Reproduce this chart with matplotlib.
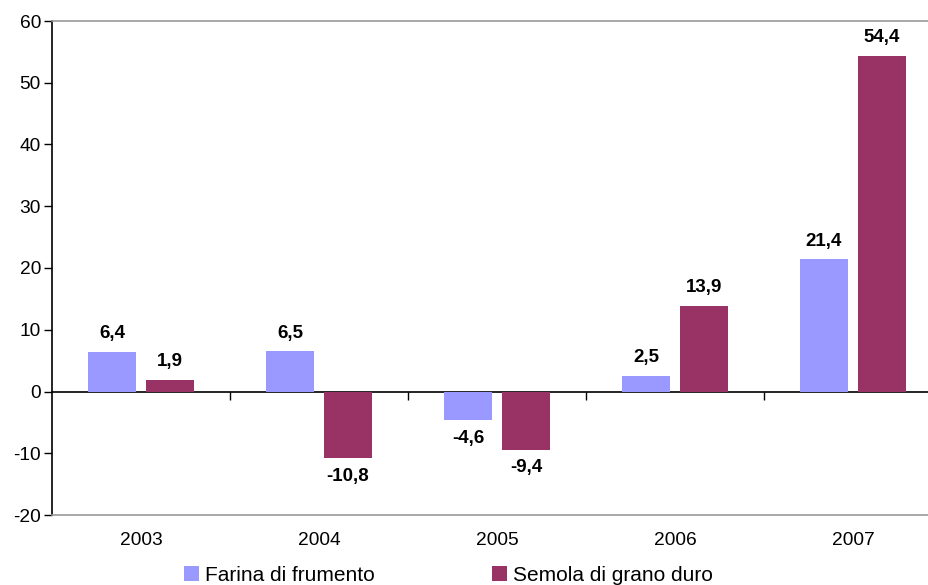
import matplotlib
matplotlib.use("Agg")
import matplotlib.pyplot as plt
from matplotlib.ticker import NullFormatter, FixedLocator
import numpy as np

plt.rcParams['font.family'] = ['Liberation Sans', 'DejaVu Sans']
plt.rcParams['axes.unicode_minus'] = False

years = ["2003", "2004", "2005", "2006", "2007"]
farina = [6.4, 6.5, -4.6, 2.5, 21.4]
semola = [1.9, -10.8, -9.4, 13.9, 54.4]
series_names = ["Farina di frumento", "Semola di grano duro"]
colors = ["#9999FF", "#993366"]

W, H = 929, 585
fig = plt.figure(figsize=(W / 100, H / 100), dpi=100)
ax = fig.add_axes([52 / W, (H - 515) / H, (942 - 52) / W, (515 - 21) / H])

x = np.arange(len(years))
width = 0.275
offset = 0.163

for vals, off, col, name in zip([farina, semola], [-offset, offset], colors, series_names):
    bars = ax.bar(x + off, vals, width, color=col, label=name, zorder=2)
    for rect, v in zip(bars, vals):
        label = f"{v:.1f}".replace(".", ",")
        xc = rect.get_x() + rect.get_width() / 2
        if v >= 0:
            ax.annotate(label, (xc, v), xytext=(0, 7), textcoords="offset points",
                        ha="center", va="bottom", fontsize=13.5, fontweight="bold")
        else:
            ax.annotate(label, (xc, v), xytext=(0, -7), textcoords="offset points",
                        ha="center", va="top", fontsize=13.5, fontweight="bold")

ax.set_xlim(-0.5, 4.5)
ax.set_ylim(-20, 60)
ax.set_yticks(np.arange(-20, 61, 10))
ax.set_xticks(x)
ax.set_xticklabels(years)
ax.tick_params(axis="x", length=0, pad=12, labelsize=13.8)
ax.tick_params(axis="y", direction="out", length=6, pad=2, width=1, labelsize=13.8)

for side in ["top", "bottom"]:
    ax.spines[side].set_color("#999999")
    ax.spines[side].set_linewidth(1.2)
ax.spines["right"].set_visible(False)
ax.spines["left"].set_color("black")
ax.spines["left"].set_linewidth(1.2)

# zero line with category separator ticks
zero_axis = ax.secondary_xaxis(20 / 80)
zero_axis.xaxis.set_major_locator(FixedLocator(np.arange(0.5, 4.5, 1.0)))
zero_axis.xaxis.set_major_formatter(NullFormatter())
zero_axis.xaxis.set_ticks_position("bottom")
zero_axis.tick_params(axis="x", which="major", direction="out", length=6, width=1,
                      color="black", bottom=True, top=False)
zero_axis.spines["bottom"].set_color("black")
zero_axis.spines["bottom"].set_linewidth(1.2)
zero_axis.spines["top"].set_visible(False)

fig.legend(loc="upper center", bbox_to_anchor=(0.4825, 1 - 566 / H), ncol=2, frameon=False,
           fontsize=15, handlelength=0.72, handleheight=0.72, handletextpad=0.3,
           columnspacing=5.6, borderaxespad=0, borderpad=0)

fig.savefig("out.png", dpi=100)
